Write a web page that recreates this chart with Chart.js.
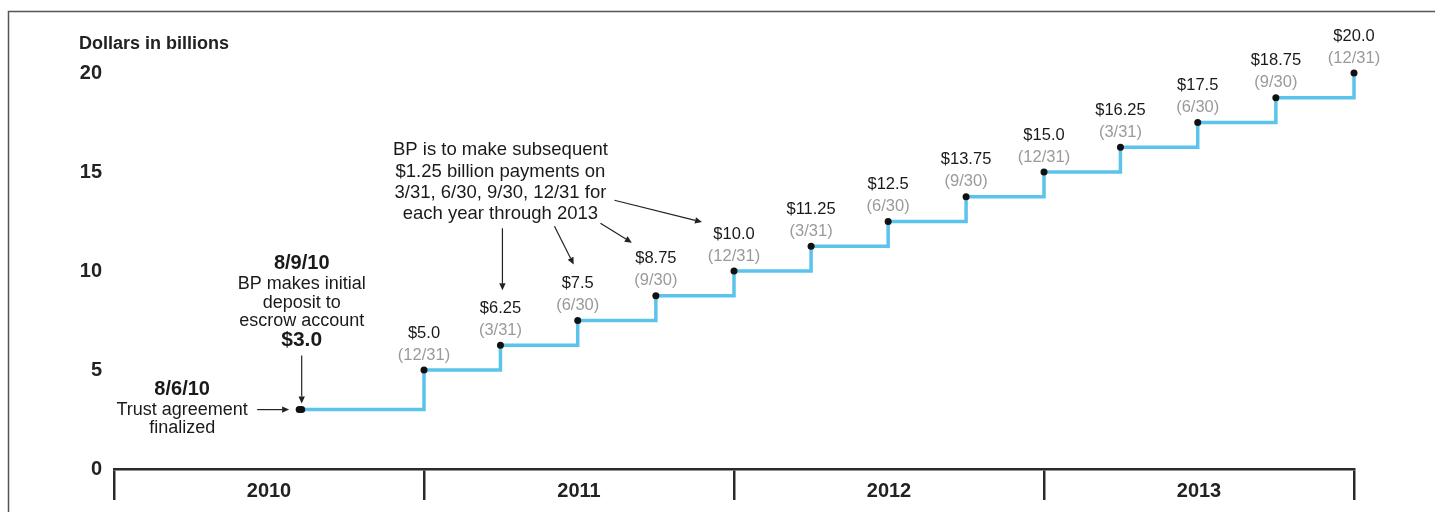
<!DOCTYPE html>
<html><head><meta charset="utf-8">
<script src="https://cdn.jsdelivr.net/npm/chart.js@4/dist/chart.umd.min.js"></script>
<style>html,body{margin:0;padding:0;background:#fff;}#wrap{width:1435px;height:512px;position:relative;}canvas{display:block;}</style>
</head><body><div id="wrap"><canvas id="c" width="1435" height="512"></canvas></div>
<script>
// ---- data ----
const paymentDates = ['2010-08-06','2010-08-09','2010-12-31','2011-03-31','2011-06-30','2011-09-30','2011-12-31',
  '2012-03-31','2012-06-30','2012-09-30','2012-12-31','2013-03-31','2013-06-30','2013-09-30','2013-12-31'];
const cumulativeBillions = [3.0,3.0,5.0,6.25,7.5,8.75,10.0,11.25,12.5,13.75,15.0,16.25,17.5,18.75,20.0];
const valueLabels = ['','','$5.0','$6.25','$7.5','$8.75','$10.0','$11.25','$12.5','$13.75','$15.0','$16.25','$17.5','$18.75','$20.0'];
const dateLabels = ['','','(12/31)','(3/31)','(6/30)','(9/30)','(12/31)','(3/31)','(6/30)','(9/30)','(12/31)','(3/31)','(6/30)','(9/30)','(12/31)'];
const yearTicks = [2010,2011,2012,2013,2014];
const yearLabels = ['2010','2011','2012','2013',''];
const yTicks = [0,5,10,15,20];
const yAxisTitle = 'Dollars in billions';
const noteLines = ['BP is to make subsequent','$1.25 billion payments on','3/31, 6/30, 9/30, 12/31 for','each year through 2013'];
const depositLines = ['8/9/10','BP makes initial','deposit to','escrow account','$3.0'];
const trustLines = ['8/6/10','Trust agreement','finalized'];

const FONT = '"Liberation Sans", Arial, Helvetica, sans-serif';
function toYear(s){
  const d = new Date(s + 'T00:00:00Z');
  const y = d.getUTCFullYear();
  const a = Date.UTC(y,0,1), b = Date.UTC(y+1,0,1);
  return y + (d.getTime() - a + 86400000) / (b - a);
}
const points = paymentDates.map((d,i)=>({x: toYear(d), y: cumulativeBillions[i]}));

function arrow(ctx,x1,y1,x2,y2){
  ctx.save();
  ctx.strokeStyle='#222'; ctx.fillStyle='#222'; ctx.lineWidth=1.2;
  const a=Math.atan2(y2-y1,x2-x1), L=7, W=3.2;
  const bx=x2-L*Math.cos(a), by=y2-L*Math.sin(a);
  ctx.beginPath(); ctx.moveTo(x1,y1); ctx.lineTo(bx,by); ctx.stroke();
  ctx.beginPath(); ctx.moveTo(x2,y2);
  ctx.lineTo(bx+W*Math.sin(a), by-W*Math.cos(a));
  ctx.lineTo(bx-W*Math.sin(a), by+W*Math.cos(a));
  ctx.closePath(); ctx.fill();
  ctx.restore();
}

const labelsPlugin = {
  id:'labels',
  afterDraw(chart){
    const ctx = chart.ctx;
    const meta = chart.getDatasetMeta(0);
    const xs = chart.scales.x, ys = chart.scales.y;
    ctx.save();
    // frame
    ctx.strokeStyle='#555'; ctx.lineWidth=1.5;
    ctx.beginPath(); ctx.moveTo(8.5,512); ctx.lineTo(8.5,11.5); ctx.lineTo(1435,11.5); ctx.stroke();
    // axis title
    ctx.fillStyle='#222'; ctx.font='bold 18px '+FONT; ctx.textAlign='left'; ctx.textBaseline='middle';
    ctx.fillText(yAxisTitle, 79, 44);
    // point labels
    ctx.textAlign='center';
    meta.data.forEach((p,i)=>{
      if(!valueLabels[i]) return;
      ctx.font='16.5px '+FONT; ctx.fillStyle='#1a1a1a';
      ctx.fillText(valueLabels[i], p.x, p.y-37);
      ctx.fillStyle='#9a9a9a';
      ctx.fillText(dateLabels[i], p.x, p.y-15);
    });
    // subsequent payments note, anchored at 3/31/11 in data terms
    const nx = xs.getPixelForValue(toYear('2011-03-31'));
    const ny = ys.getPixelForValue(16.1);
    ctx.fillStyle='#1a1a1a'; ctx.font='18.5px '+FONT;
    noteLines.forEach((t,i)=>ctx.fillText(t, nx, ny + i*21.2));
    const tgt=[3,4,5,6], starts=[[2,78],[54,76],[100,73],[114,50]], tips=[[2,-55],[-4,-56],[-24,-53],[-32,-49]];
    tgt.forEach((k,i)=>{
      const p=meta.data[k];
      arrow(ctx, nx+starts[i][0], ny+starts[i][1], p.x+tips[i][0], p.y+tips[i][1]);
    });
    // deposit annotation
    const d = meta.data[1];
    const dy=[-146,-126,-107,-89,-69];
    depositLines.forEach((t,i)=>{
      ctx.font = (i===0 ? 'bold 20px ' : i===4 ? 'bold 21px ' : '18px ') + FONT;
      ctx.fillStyle='#1a1a1a';
      ctx.fillText(t, d.x, d.y+dy[i]);
    });
    arrow(ctx, d.x, d.y-54, d.x, d.y-6);
    // trust annotation
    const tp = meta.data[0];
    const ty=[-20,0,18];
    trustLines.forEach((t,i)=>{
      ctx.font = (i===0 ? 'bold 20px ' : '18px ') + FONT;
      ctx.fillText(t, tp.x-117, tp.y+ty[i]);
    });
    arrow(ctx, tp.x-42, tp.y, tp.x-10, tp.y);
    ctx.restore();
  }
};

new Chart(document.getElementById('c'), {
  type:'line',
  data:{ datasets:[{
    data: points,
    stepped: true,
    borderColor:'#5bc3ec',
    borderWidth:3.5,
    pointRadius:3.5,
    pointBackgroundColor:'#111',
    pointBorderWidth:0,
    clip:false,
    fill:false
  }]},
  options:{
    responsive:false, animation:false, devicePixelRatio:1,
    layout:{padding:{top:73,right:81,left:0,bottom:0}},
    plugins:{legend:{display:false},tooltip:{enabled:false}},
    scales:{
      x:{
        type:'linear', min:2010, max:2014,
        afterBuildTicks: s => { s.ticks = yearTicks.map(v=>({value:v})); },
        afterFit: s => { s.height = 43; },
        grid:{display:true, drawOnChartArea:false, drawTicks:true, tickLength:31, color:'#2a2a2a', lineWidth:2.5},
        border:{display:true, color:'#2a2a2a', width:2.5},
        ticks:{autoSkip:false, maxRotation:0, minRotation:0, labelOffset:155, padding:-21,
          color:'#222', font:{family:FONT, size:20, weight:'bold'},
          callback:(v,i)=>yearLabels[i]}
      },
      y:{
        min:0, max:20,
        afterBuildTicks: s => { s.ticks = yTicks.map(v=>({value:v})); },
        afterFit: s => { s.width = 114; },
        grid:{display:false, drawTicks:false},
        border:{display:false},
        ticks:{padding:12, color:'#222', font:{family:FONT, size:20, weight:'bold'}}
      }
    }
  },
  plugins:[labelsPlugin]
});
</script></body></html>
